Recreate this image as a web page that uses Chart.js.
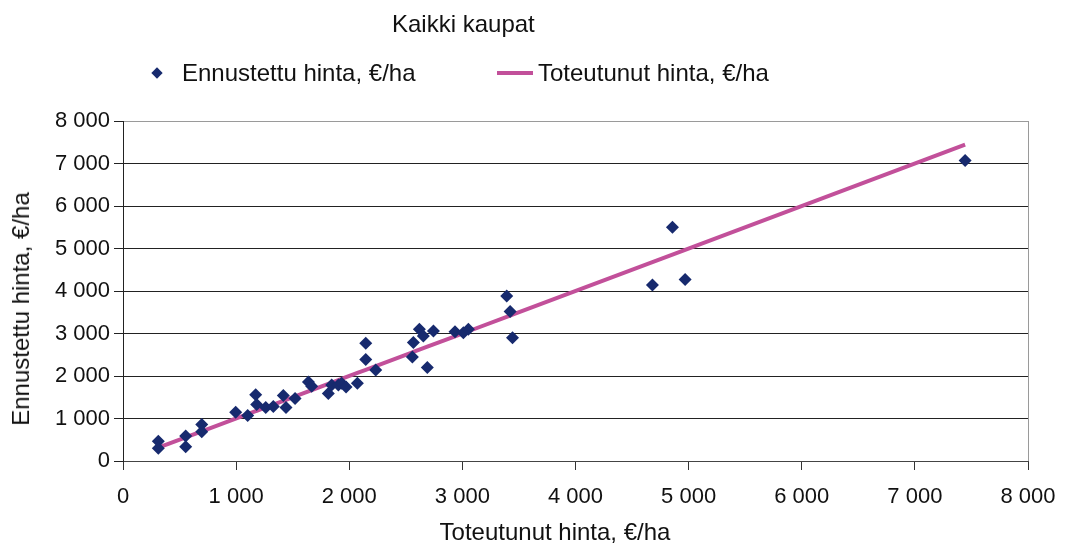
<!DOCTYPE html>
<html>
<head>
<meta charset="utf-8">
<script src="https://cdn.jsdelivr.net/npm/chart.js@4"></script>
<style>
    body { margin: 0; background: #fff; }
    #wrap { position: relative; width: 1067px; height: 545px; font-family: "Liberation Sans", Arial, sans-serif; color: #111; }
    #wrap canvas { position: absolute; left: 0; top: 0; }
    .txt { position: absolute; font-size: 24px; line-height: 24px; white-space: nowrap; }
</style>
</head>
<body>
<div id="wrap">
    <canvas id="priceChart" width="1067" height="545"></canvas>
    <div class="txt" style="left: 392px; top: 12px;">Kaikki kaupat</div>
    <!-- legend -->
    <div style="position: absolute; left: 153px; top: 69px; width: 8px; height: 8px; background: #172a6e; transform: rotate(45deg);"></div>
    <div class="txt" style="left: 182px; top: 61px;">Ennustettu hinta, €/ha</div>
    <div style="position: absolute; left: 497px; top: 71px; width: 36px; height: 4px; background: #c2509a;"></div>
    <div class="txt" style="left: 538px; top: 61px;">Toteutunut hinta, €/ha</div>
    <!-- axis titles -->
    <div class="txt" style="left: 555px; top: 520px; transform: translateX(-50%);">Toteutunut hinta, €/ha</div>
    <div class="txt" style="left: 21px; top: 309px; transform: translate(-50%, -50%) rotate(-90deg);">Ennustettu hinta, €/ha</div>
</div>
<script>
// Toteutunut (actual) and ennustettu (predicted) price, €/ha
const actualPrice = [312, 312, 554, 554, 696, 696, 996, 1102, 1173, 1182, 1262, 1329,
    1417, 1441, 1521, 1639, 1668, 1815, 1845, 1904, 1933, 1972, 2072, 2146,
    2146, 2234, 2558, 2567, 2620, 2655, 2690, 2744, 2935, 3009, 3053, 3392,
    3422, 3443, 4680, 4857, 4969, 7444];
const predictedPrice = [465, 300, 590, 335, 860, 690, 1145, 1070, 1560, 1330, 1260, 1280,
    1540, 1260, 1470, 1860, 1760, 1590, 1790, 1790, 1830, 1740, 1830, 2770,
    2390, 2140, 2450, 2790, 3100, 2940, 2200, 3060, 3040, 3020, 3100, 3880,
    3520, 2900, 4140, 5500, 4270, 7070];
const axisMin = 0;
const axisMax = 8000;
const axisStep = 1000;

function formatThousands(v) {
    return String(v).replace(/\B(?=(\d{3})+(?!\d))/g, ' ');
}

const scatterPoints = actualPrice.map((a, i) => ({ x: a, y: predictedPrice[i] }));
// the "actual" series lies on y = x
const actualLine = actualPrice.map(a => ({ x: a, y: a }));

const tickFont = { family: '"Liberation Sans", Arial, sans-serif', size: 22 };

new Chart(document.getElementById('priceChart').getContext('2d'), {
    type: 'scatter',
    data: {
        datasets: [
            {
                label: 'Ennustettu hinta, €/ha',
                data: scatterPoints,
                pointStyle: 'rectRot',
                pointRadius: 6.5,
                pointBorderWidth: 0,
                backgroundColor: '#172a6e',
                borderColor: '#172a6e',
                order: 1
            },
            {
                label: 'Toteutunut hinta, €/ha',
                data: actualLine,
                showLine: true,
                borderColor: '#c2509a',
                backgroundColor: '#c2509a',
                borderWidth: 4,
                pointRadius: 0,
                order: 2
            }
        ]
    },
    options: {
        responsive: false,
        animation: false,
        layout: { padding: { left: 0, top: 121, right: 39, bottom: 0 } },
        plugins: {
            legend: { display: false },
            title: { display: false },
            tooltip: { enabled: false }
        },
        scales: {
            x: {
                type: 'linear',
                min: axisMin,
                max: axisMax,
                afterFit: function(scale) {
                    scale.height = 84;
                    // let the layout padding alone decide the right edge
                    scale.paddingRight = 0;
                    scale.paddingLeft = 0;
                },
                ticks: {
                    stepSize: axisStep,
                    color: '#111',
                    font: tickFont,
                    padding: 14,
                    maxRotation: 0,
                    callback: v => formatThousands(v)
                },
                grid: {
                    drawOnChartArea: true,
                    color: ctx => (ctx.tick && ctx.tick.value === axisMax) ? '#9a9a9a' : 'rgba(0,0,0,0)',
                    tickColor: '#333',
                    tickLength: 9,
                    lineWidth: 1
                },
                border: { color: '#444', width: 1 }
            },
            y: {
                type: 'linear',
                min: axisMin,
                max: axisMax,
                afterFit: function(scale) { scale.width = 123; },
                ticks: {
                    stepSize: axisStep,
                    color: '#111',
                    font: tickFont,
                    padding: 4,
                    callback: v => formatThousands(v)
                },
                grid: {
                    color: ctx => (ctx.tick && ctx.tick.value === axisMax) ? '#9a9a9a' : '#222',
                    tickColor: '#222',
                    tickLength: 9,
                    lineWidth: 1
                },
                border: { color: '#222', width: 1 }
            }
        }
    }
});
</script>
</body>
</html>
